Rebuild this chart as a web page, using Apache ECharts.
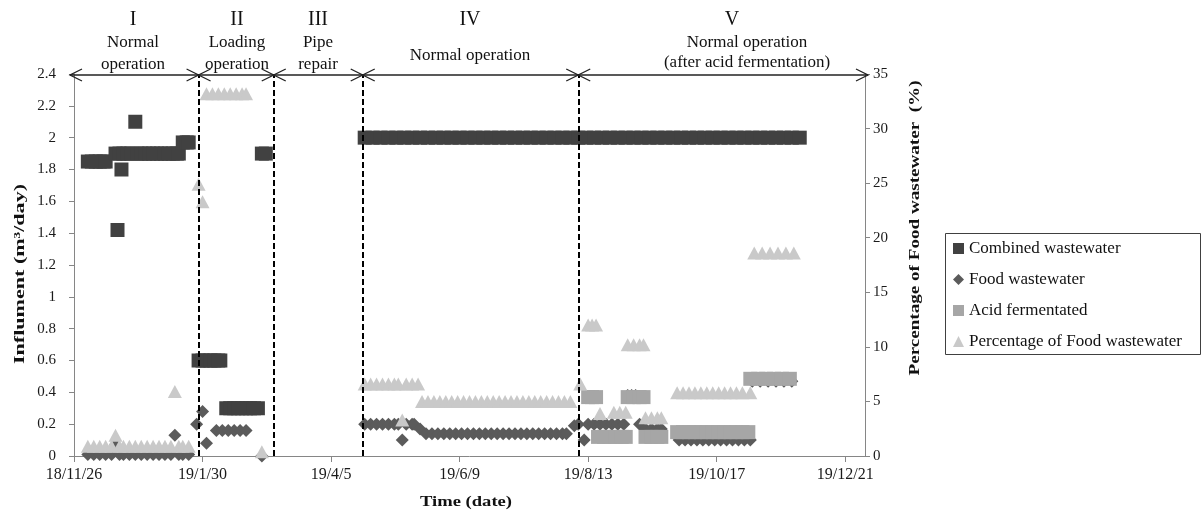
<!DOCTYPE html>
<html><head><meta charset="utf-8">
<script src="https://cdn.jsdelivr.net/npm/echarts@6/dist/echarts.min.js"></script>
<style>html,body{margin:0;padding:0;background:#fff}#c{width:1202px;height:513px}</style>
</head><body><div id="c"></div>
<script>
// ---------- data (dates as yy/m/d) ----------
const xTickDates = ['18/11/26','19/1/30','19/4/5','19/6/9','19/8/13','19/10/17','19/12/21'];
const xEndDate = '19/12/31';
const phaseBoundaries = ['19/1/28','19/3/7','19/4/21','19/8/8'];

const combined = [
 ['18/12/3',1.85],['18/12/5',1.85],['18/12/7',1.85],['18/12/9',1.85],['18/12/11',1.85],['18/12/12',1.85],
 ['18/12/17',1.9],['18/12/18',1.42],['18/12/19',1.9],['18/12/20',1.8],['18/12/21',1.9],['18/12/23',1.9],['18/12/25',1.9],
 ['18/12/27',2.1],['18/12/28',1.9],['18/12/30',1.9],['19/1/1',1.9],['19/1/3',1.9],['19/1/5',1.9],['19/1/7',1.9],['19/1/9',1.9],
 ['19/1/11',1.9],['19/1/13',1.9],['19/1/15',1.9],['19/1/17',1.9],['19/1/18',1.9],
 ['19/1/20',1.97],['19/1/22',1.97],['19/1/23',1.97],
 ['19/1/28',0.6],['19/1/30',0.6],['19/2/1',0.6],['19/2/3',0.6],['19/2/5',0.6],['19/2/7',0.6],['19/2/8',0.6],
 ['19/2/11',0.3],['19/2/13',0.3],['19/2/15',0.3],['19/2/17',0.3],['19/2/19',0.3],['19/2/21',0.3],['19/2/23',0.3],['19/2/25',0.3],['19/2/27',0.3],
 ['19/3/1',1.9],['19/3/3',1.9],
 ['19/4/22',2],['19/4/26',2],['19/4/30',2],['19/5/4',2],['19/5/8',2],['19/5/12',2],['19/5/16',2],['19/5/20',2],['19/5/24',2],['19/5/28',2],
 ['19/6/1',2],['19/6/5',2],['19/6/9',2],['19/6/13',2],['19/6/17',2],['19/6/21',2],['19/6/25',2],['19/6/29',2],
 ['19/7/3',2],['19/7/7',2],['19/7/11',2],['19/7/15',2],['19/7/19',2],['19/7/23',2],['19/7/27',2],['19/7/31',2],
 ['19/8/4',2],['19/8/8',2],['19/8/12',2],['19/8/16',2],['19/8/20',2],['19/8/24',2],['19/8/28',2],
 ['19/9/1',2],['19/9/5',2],['19/9/9',2],['19/9/13',2],['19/9/17',2],['19/9/21',2],['19/9/25',2],['19/9/29',2],
 ['19/10/3',2],['19/10/7',2],['19/10/11',2],['19/10/15',2],['19/10/19',2],['19/10/23',2],['19/10/27',2],['19/10/31',2],
 ['19/11/4',2],['19/11/8',2],['19/11/12',2],['19/11/16',2],['19/11/20',2],['19/11/24',2],['19/11/28',2]
];

const food = [
 ['18/12/3',0.01],['18/12/6',0.01],['18/12/9',0.01],['18/12/12',0.01],['18/12/15',0.01],['18/12/17',0.07],['18/12/19',0.01],
 ['18/12/21',0.01],['18/12/24',0.01],['18/12/27',0.01],['18/12/30',0.01],['19/1/2',0.01],['19/1/5',0.01],['19/1/8',0.01],
 ['19/1/11',0.01],['19/1/14',0.01],['19/1/16',0.13],['19/1/18',0.01],['19/1/20',0.01],['19/1/23',0.01],
 ['19/1/27',0.2],['19/1/30',0.28],['19/2/1',0.08],['19/2/6',0.16],['19/2/9',0.16],['19/2/12',0.16],['19/2/15',0.16],['19/2/18',0.16],['19/2/21',0.16],
 ['19/3/1',0.0],
 ['19/4/22',0.2],['19/4/25',0.2],['19/4/28',0.2],['19/5/1',0.2],['19/5/4',0.2],['19/5/7',0.2],['19/5/9',0.2],['19/5/11',0.1],
 ['19/5/13',0.2],['19/5/16',0.2],['19/5/17',0.2],['19/5/20',0.17],
 ['19/5/23',0.14],['19/5/26',0.14],['19/5/29',0.14],['19/6/1',0.14],['19/6/4',0.14],['19/6/7',0.14],['19/6/10',0.14],['19/6/13',0.14],
 ['19/6/16',0.14],['19/6/19',0.14],['19/6/22',0.14],['19/6/25',0.14],['19/6/28',0.14],['19/7/1',0.14],['19/7/4',0.14],['19/7/7',0.14],
 ['19/7/10',0.14],['19/7/13',0.14],['19/7/16',0.14],['19/7/19',0.14],['19/7/22',0.14],['19/7/25',0.14],['19/7/28',0.14],['19/7/31',0.14],['19/8/2',0.14],
 ['19/8/6',0.19],['19/8/8',0.2],['19/8/11',0.1],['19/8/13',0.2],['19/8/16',0.2],['19/8/19',0.2],['19/8/22',0.2],['19/8/25',0.2],['19/8/28',0.2],['19/8/31',0.2],
 ['19/9/2',0.38],['19/9/4',0.38],['19/9/6',0.38],['19/9/8',0.2],['19/9/11',0.17],['19/9/14',0.17],['19/9/17',0.17],['19/9/19',0.17],
 ['19/9/28',0.1],['19/10/1',0.1],['19/10/4',0.1],['19/10/7',0.1],['19/10/10',0.1],['19/10/13',0.1],['19/10/16',0.1],['19/10/19',0.1],
 ['19/10/22',0.1],['19/10/25',0.1],['19/10/28',0.1],['19/10/31',0.1],['19/11/3',0.1],
 ['19/11/4',0.47],['19/11/8',0.47],['19/11/12',0.47],['19/11/16',0.47],['19/11/20',0.47],['19/11/24',0.47]
];

const acid = [
 ['19/8/13',0.37],['19/8/15',0.37],['19/8/17',0.37],
 ['19/8/18',0.12],['19/8/21',0.12],['19/8/24',0.12],['19/8/27',0.12],['19/8/30',0.12],['19/9/1',0.12],
 ['19/9/2',0.37],['19/9/5',0.37],['19/9/8',0.37],['19/9/10',0.37],
 ['19/9/11',0.12],['19/9/14',0.12],['19/9/17',0.12],['19/9/19',0.12],
 ['19/9/27',0.15],['19/9/30',0.15],['19/10/3',0.15],['19/10/6',0.15],['19/10/9',0.15],['19/10/12',0.15],['19/10/15',0.15],
 ['19/10/18',0.15],['19/10/21',0.15],['19/10/24',0.15],['19/10/27',0.15],['19/10/30',0.15],['19/11/2',0.15],
 ['19/11/3',0.485],['19/11/7',0.485],['19/11/11',0.485],['19/11/15',0.485],['19/11/19',0.485],['19/11/23',0.485]
];

const percent = [
 ['18/12/3',0.9],['18/12/6',0.9],['18/12/9',0.9],['18/12/12',0.9],['18/12/15',0.9],['18/12/17',1.9],['18/12/19',0.9],
 ['18/12/21',0.9],['18/12/24',0.9],['18/12/27',0.9],['18/12/30',0.9],['19/1/2',0.9],['19/1/5',0.9],['19/1/8',0.9],
 ['19/1/11',0.9],['19/1/14',0.9],['19/1/16',5.9],['19/1/18',0.9],['19/1/20',0.9],['19/1/23',0.9],
 ['19/1/28',24.9],['19/1/30',23.3],
 ['19/2/1',33.2],['19/2/4',33.2],['19/2/7',33.2],['19/2/10',33.2],['19/2/13',33.2],['19/2/16',33.2],['19/2/19',33.2],['19/2/21',33.2],
 ['19/3/1',0.4],
 ['19/4/22',6.6],['19/4/25',6.6],['19/4/28',6.6],['19/5/1',6.6],['19/5/4',6.6],['19/5/7',6.6],['19/5/9',6.6],['19/5/11',3.3],
 ['19/5/13',6.6],['19/5/16',6.6],['19/5/19',6.6],
 ['19/5/21',5.0],['19/5/24',5.0],['19/5/27',5.0],['19/5/30',5.0],['19/6/2',5.0],['19/6/5',5.0],['19/6/8',5.0],['19/6/11',5.0],
 ['19/6/14',5.0],['19/6/17',5.0],['19/6/20',5.0],['19/6/23',5.0],['19/6/26',5.0],['19/6/29',5.0],['19/7/2',5.0],['19/7/5',5.0],
 ['19/7/8',5.0],['19/7/11',5.0],['19/7/14',5.0],['19/7/17',5.0],['19/7/20',5.0],['19/7/23',5.0],['19/7/26',5.0],['19/7/29',5.0],
 ['19/8/1',5.0],['19/8/4',5.0],
 ['19/8/9',6.6],
 ['19/8/13',12.0],['19/8/15',12.0],['19/8/17',12.0],['19/8/19',3.9],['19/8/26',4.0],['19/8/29',4.0],['19/9/1',4.0],
 ['19/9/2',10.2],['19/9/5',10.2],['19/9/8',10.2],['19/9/10',10.2],
 ['19/9/11',3.5],['19/9/14',3.5],['19/9/17',3.5],['19/9/19',3.5],
 ['19/9/27',5.8],['19/9/30',5.8],['19/10/3',5.8],['19/10/6',5.8],['19/10/9',5.8],['19/10/12',5.8],['19/10/15',5.8],
 ['19/10/18',5.8],['19/10/21',5.8],['19/10/24',5.8],['19/10/27',5.8],['19/10/30',5.8],['19/11/3',5.8],
 ['19/11/5',18.6],['19/11/9',18.6],['19/11/13',18.6],['19/11/17',18.6],['19/11/21',18.6],['19/11/25',18.6]
];

const seriesNames = ['Combined wastewater','Food wastewater','Acid fermentated','Percentage of Food wastewater'];
const phases = [
 {num:'I', lines:['Normal','operation']},
 {num:'II', lines:['Loading','operation']},
 {num:'III', lines:['Pipe','repair']},
 {num:'IV', lines:['Normal operation']},
 {num:'V', lines:['Normal operation','(after acid fermentation)']}
];

// ---------- helpers ----------
const T0 = Date.UTC(2018, 10, 26);
function dayOf(s){ const p = s.split('/').map(Number); return Math.round((Date.UTC(2000+p[0], p[1]-1, p[2]) - T0)/864e5); }
function fmtDay(day){ const dt = new Date(T0 + day*864e5); return (dt.getUTCFullYear()%100)+'/'+(dt.getUTCMonth()+1)+'/'+dt.getUTCDate(); }
const toXY = arr => arr.map(d => [dayOf(d[0]), d[1]]);
const SERIF = '"Liberation Serif", "Times New Roman", serif';
const mctx = document.createElement('canvas').getContext('2d');
function textW(t, font){ mctx.font = font; return mctx.measureText(t).width; }

const chart = echarts.init(document.getElementById('c'), null, {renderer:'canvas'});
const tickDays = xTickDates.map(dayOf);

function scatter(name, data, symbol, size, color, yIdx){
  return {name, type:'scatter', data: toXY(data), yAxisIndex: yIdx, symbol, symbolSize: size,
    itemStyle:{color, opacity:1}, emphasis:{disabled:true}, animation:false};
}

chart.setOption({
  animation:false,
  backgroundColor:'#fff',
  grid:{left:74, right:337, top:74, bottom:57},
  legend:{
    data: seriesNames, orient:'vertical', left:953, top:240, itemGap:14, itemWidth:11, itemHeight:11, padding:0,
    textStyle:{fontFamily:SERIF, fontSize:17, color:'#111'}, selectedMode:false
  },
  xAxis:{
    type:'value', min:0, max:dayOf(xEndDate), interval:65,
    axisLine:{show:true, lineStyle:{color:'#868686'}},
    axisTick:{show:true, inside:false, length:6, customValues: tickDays, lineStyle:{color:'#868686'}},
    axisLabel:{customValues: tickDays, formatter: v => fmtDay(v), fontFamily:SERIF, fontSize:16, color:'#1a1a1a', margin:11},
    splitLine:{show:false}
  },
  yAxis:[
    {type:'value', min:0, max:2.4, interval:0.2,
     axisLine:{show:true, lineStyle:{color:'#868686'}},
     axisTick:{show:true, length:5, lineStyle:{color:'#868686'}},
     axisLabel:{formatter: v => String(+v.toFixed(1)), fontFamily:SERIF, fontSize:15, color:'#1a1a1a', margin:18},
     splitLine:{show:false}},
    {type:'value', min:0, max:35, interval:5, position:'right',
     axisLine:{show:true, lineStyle:{color:'#868686'}},
     axisTick:{show:true, length:5, lineStyle:{color:'#868686'}},
     axisLabel:{fontFamily:SERIF, fontSize:15, color:'#1a1a1a', margin:8},
     splitLine:{show:false}}
  ],
  series:[
    scatter(seriesNames[0], combined, 'rect', [14,14], '#414141', 0),
    scatter(seriesNames[1], food, 'diamond', [13,13], '#5b5b5b', 0),
    scatter(seriesNames[2], acid, 'rect', [14,14], '#a6a6a6', 0),
    scatter(seriesNames[3], percent, 'triangle', [14,13], '#c9c9c9', 1),
    {type:'scatter', name:'_bounds', data:[], z:10, silent:true,
     markLine:{silent:true, symbol:['none','none'], label:{show:false}, animation:false,
       lineStyle:{color:'#000', width:2, type:[6,3]},
       emphasis:{disabled:true},
       data: phaseBoundaries.map(b => ({xAxis: dayOf(b)}))}}
  ]
});

// ---------- annotations ----------
const bx = phaseBoundaries.map(b => chart.convertToPixel({xAxisIndex:0}, dayOf(b)));
const ay = 75, leftEnd = 70, rightEnd = 868, ah = 12, aw = 6;
const g = [];
const stroke = {stroke:'#222', lineWidth:1.3, fill:null};
g.push({type:'line', shape:{x1:leftEnd, y1:ay, x2:rightEnd, y2:ay}, style:stroke, z:20});
function head(tip, dir){ g.push({type:'polyline', shape:{points:[[tip+dir*ah, ay-aw],[tip, ay],[tip+dir*ah, ay+aw]]}, style:stroke, z:20}); }
head(leftEnd, 1); head(rightEnd, -1);
bx.forEach(x => { head(x, -1); head(x, 1); });

// phase labels
const edges = [leftEnd].concat(bx, [rightEnd]);
const numY = 20;
const phaseCenters = [133, 237, 318, 470, 747];
const numCenters = [133, 237, 318, 470, 732];
const lineYs = [[43,65],[43,65],[43,65],[56],[43,63]];
phases.forEach((p, i) => {
  g.push({type:'text', x:numCenters[i], y:numY, z:20, style:{text:p.num, font:'20px '+SERIF, fill:'#111', align:'center', verticalAlign:'middle', textAlign:'center', textVerticalAlign:'middle'}});
  p.lines.forEach((t, j) => {
    g.push({type:'text', x:phaseCenters[i], y:lineYs[i][j], z:20, style:{text:t, font:'17px '+SERIF, fill:'#111', align:'center', verticalAlign:'middle', textAlign:'center', textVerticalAlign:'middle'}});
  });
});

// axis names (stretched like the original)
function stretched(text, x, y, rot, targetLen, font){
  const w = textW(text, font);
  g.push({type:'text', x, y, rotation:rot, scaleX: targetLen / w, z:20,
    style:{text, font, fill:'#111', align:'center', verticalAlign:'middle', textAlign:'center', textVerticalAlign:'middle'}});
}
const boldF = 'bold 14px ' + SERIF;
stretched('Influment (m\u00b3/day)', 20, 274, Math.PI/2, 180, boldF);
stretched('Percentage of Food wastewater  (%)', 915, 228, Math.PI/2, 295, boldF);
stretched('Time (date)', 466, 502, 0, 92, 'bold 15px ' + SERIF);

// legend frame
g.push({type:'rect', shape:{x:945.5, y:233.5, width:255, height:121}, style:{fill:null, stroke:'#404040', lineWidth:1}, z:1});

chart.setOption({graphic:{elements:g}});
</script></body></html>
